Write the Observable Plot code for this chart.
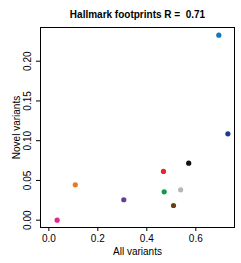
<!DOCTYPE html>
<html><head><meta charset="utf-8">
<script src="https://cdn.jsdelivr.net/npm/d3@7"></script>
<script src="https://cdn.jsdelivr.net/npm/@observablehq/plot@0.6"></script>
<style>body{margin:0;background:#fff;} svg{font-family:"Liberation Sans",Arial,sans-serif;} svg text{white-space:pre;}</style>
</head><body><div id="chart"></div>
<script>
const allVariants = [0.034, 0.108, 0.306, 0.468, 0.471, 0.509, 0.538, 0.571, 0.694, 0.731];
const novelVariants = [0.000, 0.0445, 0.0257, 0.0613, 0.0357, 0.0185, 0.0382, 0.0717, 0.2327, 0.1087];
const pointColors = ["#e0288f", "#e67a1e", "#6a3a94", "#e8262a", "#119a4f", "#6b3f14", "#b4b8bc", "#111111", "#1677be", "#213a8e"];
const xTicks = [0, 0.2, 0.4, 0.6];
const yTicks = [0, 0.05, 0.10, 0.15, 0.20];
const titleText = "Hallmark footprints R =  0.71";
const xLabel = "All variants";
const yLabel = "Novel variants";

const data = allVariants.map((x, i) => ({x, y: novelVariants[i], c: pointColors[i]}));

const chart = Plot.plot({
  width: 241, height: 263,
  marginLeft: 40, marginRight: 7, marginTop: 27, marginBottom: 36,
  style: {fontSize: "10px", fontFamily: "Liberation Sans, Arial, sans-serif", color: "#000"},
  x: {domain: [-0.034, 0.758], ticks: xTicks, tickFormat: d3.format(".1f")},
  y: {domain: [-0.0092, 0.2424], ticks: yTicks, tickFormat: d3.format(".2f")},
  marks: [
    Plot.frame({stroke: "#000", strokeWidth: 1}),
    Plot.axisX({ticks: xTicks, tickFormat: d3.format(".1f"), tickSize: 4, tickPadding: 3, label: null, fontSize: 10}),
    Plot.axisY({ticks: yTicks, tickFormat: d3.format(".2f"), tickSize: 4, tickPadding: 6, tickRotate: -90, label: null, fontSize: 10}),
    Plot.dot(data, {x: "x", y: "y", fill: "c", r: 2.6}),
    Plot.text([titleText], {frameAnchor: "top", lineAnchor: "middle", dy: -13, fontWeight: "bold", fontSize: 10}),
    Plot.text([xLabel], {frameAnchor: "bottom", lineAnchor: "middle", dy: 24, fontSize: 10}),
    Plot.text([yLabel], {frameAnchor: "left", lineAnchor: "middle", textAnchor: "middle", dx: -24, rotate: -90, fontSize: 10})
  ]
});
document.getElementById("chart").appendChild(chart);
</script></body></html>
